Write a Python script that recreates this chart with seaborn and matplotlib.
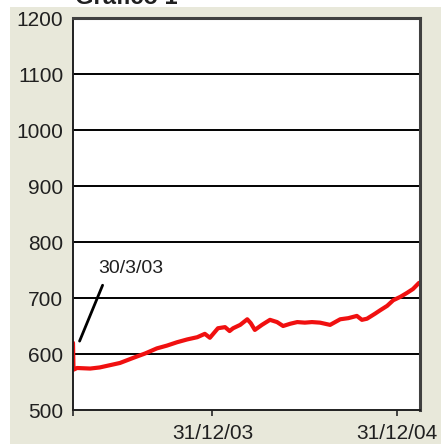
import pandas as pd
import matplotlib.pyplot as plt
from matplotlib.patches import Rectangle
import seaborn as sns

# Values
dates = ['2003-03-30', '2003-03-31', '2003-04-07', '2003-05-03', '2003-05-22', '2003-06-11',
         '2003-07-01', '2003-07-27', '2003-08-20', '2003-09-12', '2003-10-02', '2003-10-22',
         '2003-11-11', '2003-12-01', '2003-12-16', '2003-12-26', '2004-01-11', '2004-01-25',
         '2004-02-03', '2004-02-10', '2004-02-24', '2004-03-09', '2004-03-16', '2004-03-24',
         '2004-04-07', '2004-04-23', '2004-05-07', '2004-05-19', '2004-06-02', '2004-06-16',
         '2004-07-01', '2004-07-15', '2004-07-31', '2004-08-20', '2004-09-09', '2004-09-25',
         '2004-10-12', '2004-10-22', '2004-11-01', '2004-11-17', '2004-11-27', '2004-12-11',
         '2004-12-23', '2005-01-06', '2005-01-19', '2005-01-31', '2005-02-12']
values = [620, 572, 575, 574, 576, 580,
          584, 593, 601, 610, 615, 621,
          626, 630, 636, 629, 646, 648,
          641, 646, 652, 662, 655, 643,
          652, 661, 657, 650, 654, 657,
          656, 657, 656, 652, 662, 664,
          668, 661, 663, 672, 678, 686,
          696, 702, 709, 716, 727]
tick_dates = ['2003-03-30', '2003-12-31', '2004-12-31']
tick_labels = ['', '31/12/03', '31/12/04']
y_ticks = [500, 600, 700, 800, 900, 1000, 1100, 1200]

df = pd.DataFrame({'date': pd.to_datetime(dates), 'value': values})

sns.set_style('white')
plt.rcParams['font.family'] = ['Liberation Sans', 'DejaVu Sans']

fig = plt.figure(figsize=(4.41, 4.44), dpi=100, facecolor='white')
beige = '#e8e8da'
fig.patches.append(Rectangle((10 / 441, 0), 1 - 10 / 441, 1 - 7 / 444,
                             transform=fig.transFigure, facecolor=beige,
                             edgecolor='none', zorder=-1))
ax = fig.add_axes([73 / 441, 1 - 410 / 444, 347 / 441, 392 / 444])
ax.set_facecolor('white')

sns.lineplot(data=df, x='date', y='value', ax=ax, color='#f01010', linewidth=3)

ax.set_ylim(500, 1200)
ax.set_xlim(pd.Timestamp('2003-03-30'), pd.Timestamp('2005-02-14'))
ax.set_yticks(y_ticks)
ax.set_xticks(pd.to_datetime(tick_dates))
ax.set_xticklabels(tick_labels)
ax.set_xlabel('')
ax.set_ylabel('')

for v in y_ticks[1:-1]:
    ax.axhline(v, color='black', linewidth=1.4, zorder=1)

ax.tick_params(axis='y', length=0, pad=7, labelsize=15, labelcolor='#202020')
ax.tick_params(axis='x', length=4, width=1.2, direction='out', pad=6,
               labelsize=15, labelcolor='#202020', bottom=True)

for side in ['left', 'bottom']:
    ax.spines[side].set_color('#202020')
    ax.spines[side].set_linewidth(1.4)
for side in ['top', 'right']:
    ax.spines[side].set_color('#404040')
    ax.spines[side].set_linewidth(2.2)

ax.annotate('30/3/03', xy=(pd.Timestamp('2003-04-12'), 623),
            xytext=(pd.Timestamp('2003-05-19'), 753), fontsize=14, color='#202020',
            va='center', ha='left',
            arrowprops=dict(arrowstyle='-', color='black', linewidth=2,
                            relpos=(0.12, 0), shrinkA=4, shrinkB=0))

# title is cut by the top edge in the reference as well
fig.text(75 / 441, 1 - 4 / 444, 'Grafico 1', fontsize=17, fontweight='bold',
         ha='left', va='baseline', color='#202020')

plt.savefig('out.png', dpi=100, facecolor=fig.get_facecolor())
